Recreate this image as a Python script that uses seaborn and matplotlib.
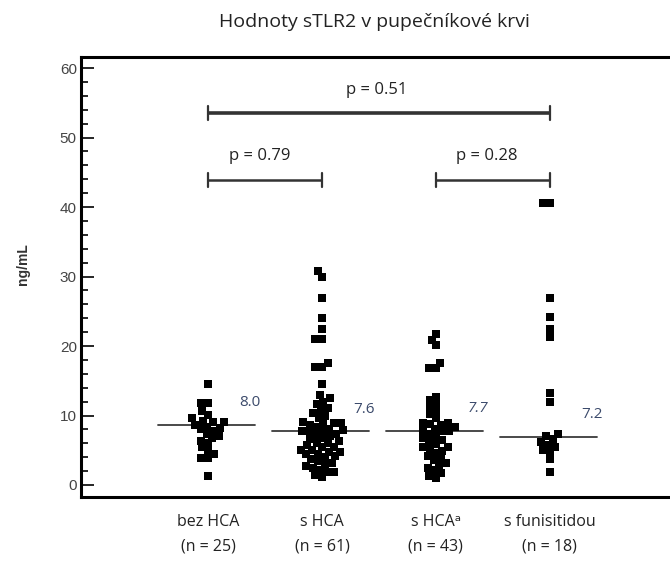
import numpy as np
import pandas as pd
import matplotlib
matplotlib.use("Agg")
import matplotlib.pyplot as plt
from matplotlib.ticker import MultipleLocator
from matplotlib.path import Path
import seaborn as sns

# ---- data ----
groups = ["bez HCA", "s HCA", "s HCAᵃ", "s funisitidou"]
tick_labels = ["bez HCA\n(n = 25)", "s HCA\n(n = 61)", "s HCAᵃ\n(n = 43)", "s funisitidou\n(n = 18)"]

bez_hca = [14.6, 11.8, 11.8, 10.6, 10.1, 9.6, 9.2, 9.0, 9.0, 8.7, 8.4, 8.2, 8.0,
           7.8, 7.4, 7.1, 6.8, 6.4, 6.0, 5.4, 4.9, 4.4, 3.9, 3.9, 1.3]
s_hca = [30.8, 30.0, 26.9, 24.1, 22.4, 21.0, 21.0, 17.6, 17.0, 17.0, 14.6, 12.9,
         12.5, 12.0, 11.6, 11.1, 10.8, 10.3, 10.0, 9.6, 9.0, 8.9, 8.9, 8.8, 8.6,
         8.3, 8.1, 7.9, 7.8, 7.7, 7.6, 7.4, 7.2, 7.0, 6.7, 6.6, 6.3, 6.1, 6.0,
         5.7, 5.5, 5.4, 5.1, 5.0, 4.8, 4.8, 4.5, 4.4, 4.1, 4.0, 3.7, 3.5, 3.2,
         3.0, 2.7, 2.5, 2.2, 1.9, 1.9, 1.4, 1.2]
s_hca_a = [21.7, 20.9, 20.1, 17.6, 16.8, 16.8, 12.7, 12.2, 11.7, 11.2, 10.7, 10.2,
           9.6, 8.9, 8.9, 8.8, 8.7, 8.4, 8.1, 7.9, 7.8, 7.7, 7.4, 7.1, 6.8, 6.5,
           6.2, 5.9, 5.5, 5.5, 5.2, 4.9, 4.6, 4.2, 3.9, 3.6, 3.2, 2.9, 2.5, 2.1,
           1.7, 1.3, 1.0]
s_funisitidou = [40.6, 40.6, 26.9, 24.2, 22.5, 21.3, 13.3, 12.0, 7.3, 7.0, 6.6,
                 6.2, 5.8, 5.5, 5.1, 4.8, 3.8, 1.9]

median_lines = [8.6, 7.7, 7.8, 6.9]
median_labels = ["8.0", "7.6", "7.7", "7.2"]

p_texts = ["p = 0.79", "p = 0.28", "p = 0.51"]
p_pairs = [(0, 1), (2, 3), (0, 3)]
p_levels = [43.9, 43.9, 53.5]

values = [bez_hca, s_hca, s_hca_a, s_funisitidou]
df = pd.DataFrame({
    "group": np.repeat(groups, [len(v) for v in values]),
    "value": np.concatenate(values),
})

# ---- figure ----
sns.set_style("white")
plt.rcParams["font.family"] = ["Open Sans", "DejaVu Sans"]

fig = plt.figure(figsize=(6.70, 5.61), dpi=100)
ax = fig.add_axes([81 / 670, 64 / 561, 0.887, 440 / 561])

sns.swarmplot(data=df, x="group", y="value", order=groups, marker="s",
              color="black", size=5.0, linewidth=0, ax=ax, warn_thresh=1)
# draw the squares larger than the swarm spacing so they overlap as in the reference
for coll in ax.collections:
    coll.set_paths([Path(p.vertices * 1.25, p.codes) for p in coll.get_paths()])

# median lines + labels
for i, (m, lab) in enumerate(zip(median_lines, median_labels)):
    ax.plot([i - 0.44, i + 0.41], [m, m], color="#3a3a3a", lw=1.3, zorder=1)
    ax.text(i + 0.37, m + 3.2, lab, ha="center", va="center", fontsize=11,
            color="#3b4a6b", style="italic" if i == 2 else "normal",
            family=["Open Sans", "DejaVu Sans"])

# significance brackets
for (a, b), lvl, txt in zip(p_pairs, p_levels, p_texts):
    lw = 2.6 if b - a > 1 else 1.8
    ax.plot([a, b], [lvl, lvl], color="#333333", lw=lw, solid_capstyle="butt")
    for xx in (a, b):
        ax.plot([xx, xx], [lvl - 1.0, lvl + 1.0], color="#333333", lw=1.6)
    ax.text((a + b) / 2 - (0.02 if b - a > 1 else 0.05), lvl + 3.4, txt,
            ha="center", va="center", fontsize=12, color="#222222")

ax.set_xlim(-1.114, 4.1)
ax.set_ylim(-1.73, 61.6)
ax.yaxis.set_major_locator(MultipleLocator(10))
ax.yaxis.set_minor_locator(MultipleLocator(2))
ax.tick_params(axis="y", which="major", direction="in", length=9, width=1.4,
               labelsize=11, labelcolor="#444444", pad=3, left=True)
ax.tick_params(axis="y", which="minor", direction="in", length=5, width=1.4, left=True)
for lbl in ax.get_yticklabels():
    lbl.set_family(["Liberation Sans", "DejaVu Sans"])
ax.set_xticks(range(len(groups)))
ax.set_xticklabels(tick_labels, fontsize=11.5, color="#222222", linespacing=1.75)
ax.tick_params(axis="x", length=0, pad=12)

ax.set_xlabel("")
ax.set_ylabel("ng/mL", fontsize=10, fontweight="bold", color="#333333",
              family=["Liberation Sans", "DejaVu Sans"])
ax.yaxis.set_label_coords(-0.085, 0.53)

for side in ("left", "bottom", "top"):
    ax.spines[side].set_visible(True)
    ax.spines[side].set_color("black")
    ax.spines[side].set_linewidth(2.2)
ax.spines["right"].set_visible(False)

fig.text(374 / 670, 1 - 22 / 561, "Hodnoty sTLR2 v pupečníkové krvi",
         ha="center", va="center", fontsize=14, color="#222222")

fig.savefig("out.png", dpi=100)
